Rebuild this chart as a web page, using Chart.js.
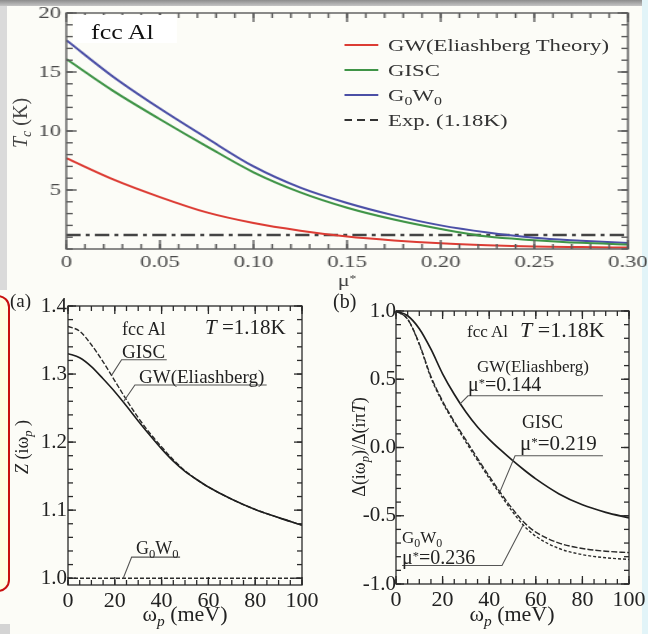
<!DOCTYPE html>
<html>
<head>
<meta charset="utf-8">
<title>fcc Al: Tc and gap functions</title>
<script src="https://cdn.jsdelivr.net/npm/chart.js@4.4.1/dist/chart.umd.min.js"></script>
<style>
  body { margin: 0; background: #fcfcf7; }
  #page { position: relative; width: 648px; height: 634px; overflow: hidden; background: #fcfcf7;
          font-family: "Liberation Serif", "Times New Roman", serif; color: #222; }
  #top { position: absolute; left: 0; top: 0; width: 498px; height: 290px; transform: scaleX(1.3); transform-origin: 0 0; }
  canvas { position: absolute; }
  .t { position: absolute; white-space: nowrap; line-height: 1; }
  .t sub { font-size: 70%; vertical-align: -0.3em; line-height: 0; }
  .t sup { font-size: 62%; vertical-align: 0.32em; line-height: 0; }
  .deco { position: absolute; }
</style>
</head>
<body>
<div id="page">
  <div class="deco" style="left:0;top:0;width:648px;height:6px;background:linear-gradient(#8c8c8c,#c4c4c4);"></div>
  <div class="deco" style="left:0;top:6px;width:7px;height:284px;background:#dadada;"></div>
  <div class="deco" style="left:642px;top:0;width:6px;height:634px;background:#e2f4f8;"></div>
  <div class="deco" style="left:0;top:624px;width:10px;height:10px;background:#d4d4d4;"></div>
  <div class="deco" style="left:-14px;top:295px;width:20px;height:293px;border:2px solid #c81010;border-radius:12px;background:#fffee2;"></div>

  <div id="top">
    <canvas id="tcChart" width="498" height="290" style="left:0;top:0"></canvas>
  </div>
  <canvas id="zChart" width="330" height="344" style="left:0;top:290px"></canvas>
  <canvas id="gapChart" width="318" height="344" style="left:330px;top:290px"></canvas>
</div>

<script>
// ---- top panel: Tc versus mu*
const muStar  = [0, 0.025, 0.05, 0.075, 0.1, 0.125, 0.15, 0.175, 0.2, 0.225, 0.25, 0.275, 0.3];
const tcGW    = [7.7, 5.9, 4.4, 3.1, 2.2, 1.55, 1.05, 0.72, 0.48, 0.32, 0.21, 0.16, 0.12];
const tcGISC  = [16.1, 13.4, 11.0, 8.7, 6.5, 4.8, 3.5, 2.5, 1.7, 1.05, 0.75, 0.52, 0.38];
const tcG0W0  = [17.7, 14.6, 11.9, 9.4, 7.0, 5.2, 3.9, 2.85, 2.0, 1.4, 0.95, 0.7, 0.5];
const tcExp   = 1.18;
const muTicks = [0, 0.05, 0.10, 0.15, 0.20, 0.25, 0.30];
const tcTicks = [5, 10, 15, 20];

// ---- panel (a) and (b): functions of omega_p
const omegaP  = [0, 5, 10, 15, 20, 25, 30, 35, 40, 45, 50, 55, 60, 70, 80, 90, 100];
const zGW     = [1.330, 1.324, 1.311, 1.293, 1.274, 1.253, 1.231, 1.210, 1.190, 1.172, 1.157, 1.145, 1.134, 1.116, 1.101, 1.089, 1.078];
const zGISC   = [1.370, 1.363, 1.343, 1.318, 1.290, 1.262, 1.236, 1.213, 1.193, 1.174, 1.158, 1.145, 1.134, 1.116, 1.101, 1.089, 1.078];
const zG0W0   = [1, 1, 1, 1, 1, 1, 1, 1, 1, 1, 1, 1, 1, 1, 1, 1, 1];
const gapGW   = [1.0, 0.965, 0.87, 0.72, 0.54, 0.39, 0.26, 0.15, 0.06, -0.02, -0.095, -0.165, -0.23, -0.34, -0.42, -0.475, -0.515];
const gapGISC = [1.0, 0.94, 0.76, 0.52, 0.34, 0.19, 0.055, -0.08, -0.21, -0.335, -0.45, -0.55, -0.62, -0.70, -0.74, -0.76, -0.77];
const gapG0W0 = [1.0, 0.94, 0.755, 0.51, 0.33, 0.18, 0.04, -0.095, -0.225, -0.35, -0.47, -0.575, -0.65, -0.74, -0.785, -0.808, -0.82];
const omegaTicks = [0, 20, 40, 60, 80, 100];
const zTicks     = [1.0, 1.1, 1.2, 1.3, 1.4];
const gapTicks   = [-1.0, -0.5, 0.0, 0.5, 1.0];

const SERIF = '"Liberation Serif", "Times New Roman", serif';

function pts(xs, ys) {
  return xs.map((v, i) => ({x: v, y: ys[i]}));
}

// box around the plot with inward ticks on all four sides
const framePlugin = {
  id: 'frame',
  afterDraw(chart, args, o) {
    const {ctx, chartArea: a, scales: {x, y}} = chart;
    ctx.save();
    ctx.strokeStyle = o.color;
    ctx.lineWidth = o.width;
    const seg = (x1, y1, x2, y2) => { ctx.beginPath(); ctx.moveTo(x1, y1); ctx.lineTo(x2, y2); ctx.stroke(); };
    const each = (scale, step, fn) => {
      for (let k = Math.ceil(scale.min / step - 1e-6); k * step <= scale.max + 1e-9; k++) fn(k * step);
    };
    each(x, o.xMinor, v => { const p = x.getPixelForValue(v); seg(p, a.bottom, p, a.bottom - o.xLen[1]); seg(p, a.top, p, a.top + o.xLen[1]); });
    each(y, o.yMinor, v => { const p = y.getPixelForValue(v); seg(a.left, p, a.left + o.yLen[1], p); seg(a.right, p, a.right - o.yLen[1], p); });
    x.ticks.forEach(t => { const p = x.getPixelForValue(t.value); seg(p, a.bottom, p, a.bottom - o.xLen[0]); seg(p, a.top, p, a.top + o.xLen[0]); });
    y.ticks.forEach(t => { const p = y.getPixelForValue(t.value); seg(a.left, p, a.left + o.yLen[0], p); seg(a.right, p, a.right - o.yLen[0], p); });
    ctx.strokeRect(a.left, a.top, a.right - a.left, a.bottom - a.top);
    ctx.restore();
  }
};

// label leader lines, given in data units
const calloutPlugin = {
  id: 'callouts',
  afterDatasetsDraw(chart, args, o) {
    if (!o.items) return;
    const {ctx, scales: {x, y}} = chart;
    ctx.save();
    ctx.strokeStyle = o.color;
    ctx.lineWidth = o.width;
    o.items.forEach(line => {
      ctx.beginPath();
      line.forEach((p, i) => {
        const px = x.getPixelForValue(p[0]), py = y.getPixelForValue(p[1]);
        if (i) ctx.lineTo(px, py); else ctx.moveTo(px, py);
      });
      ctx.stroke();
    });
    ctx.restore();
  }
};

function axis(min, max, ticks, fmt, size, pad, color, fitSize, horizontal) {
  return {
    type: 'linear', min: min, max: max,
    grid: {display: false, drawTicks: false},
    border: {display: false},
    afterBuildTicks: s => { s.ticks = ticks.map(v => ({value: v})); },
    afterFit: s => {
      if (horizontal) { s.height = fitSize; s.paddingLeft = 0; s.paddingRight = 0; }
      else { s.width = fitSize; s.paddingTop = 0; s.paddingBottom = 0; }
    },
    ticks: {callback: fmt, autoSkip: false, maxRotation: 0, padding: pad, color: color,
            font: {family: SERIF, size: size}}
  };
}

function line(data, color, width, dash) {
  return {data: data, borderColor: color, borderWidth: width, borderDash: dash || [],
          pointRadius: 0, fill: false, cubicInterpolationMode: 'monotone'};
}

const baseOpts = {
  responsive: false, animation: false, events: [],
  plugins: {legend: {display: false}, tooltip: {enabled: false}}
};

// top chart
new Chart(document.getElementById('tcChart'), {
  type: 'line',
  data: {datasets: [
    line(pts(muStar, tcGW), '#dc3c34', 2),
    line(pts(muStar, tcGISC), '#3f9447', 2),
    line(pts(muStar, tcG0W0), '#4b4fa6', 2),
    line([{x: muStar[0], y: tcExp}, {x: muStar[muStar.length - 1], y: tcExp}], '#444', 2.5, [11, 4, 3, 4])
  ]},
  options: Object.assign({}, baseOpts, {
    layout: {padding: {top: 13, right: 15, bottom: 0, left: 0}},
    scales: {
      x: axis(0, 0.3, muTicks, v => v === 0 ? '0' : v.toFixed(2), 17.5, 3, '#4a4a4a', 41, true),
      y: axis(0, 20, tcTicks, v => String(v), 17.5, 4, '#4a4a4a', 51, false)
    },
    plugins: Object.assign({}, baseOpts.plugins, {
      frame: {color: '#5a5a5a', width: 1.4, xMinor: 0.01, yMinor: 1, xLen: [9, 5], yLen: [8, 5]}
    })
  }),
  plugins: [framePlugin]
});

// (a) Z(i omega_p)
new Chart(document.getElementById('zChart'), {
  type: 'line',
  data: {datasets: [
    line(pts(omegaP, zGW), '#1e1e1e', 1.6),
    line(pts(omegaP, zGISC), '#2a2a2a', 1.4, [5, 2]),
    line(pts(omegaP, zG0W0), '#2a2a2a', 1.4, [4, 2])
  ]},
  options: Object.assign({}, baseOpts, {
    layout: {padding: {top: 16, right: 28, bottom: 0, left: 0}},
    scales: {
      x: axis(0, 100, omegaTicks, v => String(v), 22, 3, '#222', 49, true),
      y: axis(0.99, 1.4, zTicks, v => v.toFixed(1), 21, 1, '#222', 68, false)
    },
    plugins: Object.assign({}, baseOpts.plugins, {
      frame: {color: '#2a2a2a', width: 1.3, xMinor: 5, yMinor: 0.02, xLen: [8, 5], yLen: [8, 5]},
      callouts: {color: '#555', width: 1.1, items: [
        [[18.6, 1.298], [22.9, 1.321], [42.2, 1.321]],
        [[23.6, 1.259], [28.6, 1.284], [84.9, 1.284]],
        [[23.6, 1.0], [27.2, 1.031], [47.9, 1.031]]
      ]}
    })
  }),
  plugins: [framePlugin, calloutPlugin]
});

// (b) gap function
new Chart(document.getElementById('gapChart'), {
  type: 'line',
  data: {datasets: [
    line(pts(omegaP, gapGW), '#1e1e1e', 1.7),
    line(pts(omegaP, gapGISC), '#2a2a2a', 1.4, [6, 2]),
    line(pts(omegaP, gapG0W0), '#2a2a2a', 1.4, [3, 2])
  ]},
  options: Object.assign({}, baseOpts, {
    layout: {padding: {top: 21, right: 19, bottom: 0, left: 0}},
    scales: {
      x: axis(0, 100, omegaTicks, v => String(v), 22, 3, '#222', 50, true),
      y: axis(-1, 1, gapTicks, v => v.toFixed(1), 21, 0, '#222', 66, false)
    },
    plugins: Object.assign({}, baseOpts.plugins, {
      frame: {color: '#2a2a2a', width: 1.3, xMinor: 5, yMinor: 0.1, xLen: [8, 5], yLen: [8, 5]},
      callouts: {color: '#555', width: 1.1, items: [
        [[27.5, 0.32], [30.9, 0.379], [88.8, 0.379]],
        [[44.6, -0.325], [51.1, -0.06], [88.8, -0.06]],
        [[54.5, -0.57], [45.5, -0.864], [2.6, -0.864]]
      ]}
    })
  }),
  plugins: [framePlugin, calloutPlugin]
});

// ---- text overlays
function addText(parent, html, x, y, size, mode, extra) {
  const el = document.createElement('div');
  el.className = 't';
  el.innerHTML = html;
  el.style.fontSize = size + 'px';
  el.style.left = x + 'px';
  if (mode === 'lb') {
    el.style.top = (y - 0.84 * size) + 'px';
  } else {
    el.style.top = y + 'px';
    el.style.transform = 'translate(-50%,-50%)' + (mode === 'rot' ? ' rotate(-90deg)' : '');
  }
  if (extra) Object.assign(el.style, extra);
  parent.appendChild(el);
  return el;
}

const page = document.getElementById('page');
const topBox = document.getElementById('top');

// top panel label box and legend (inside the stretched box, unstretched units)
const box = document.createElement('div');
Object.assign(box.style, {position: 'absolute', left: '56px', top: '15px', width: '80px', height: '28px', background: '#fff'});
topBox.appendChild(box);
addText(box, 'fcc Al', 14, 24, 20, 'lb', {color: '#111'});

const legendItems = [
  {html: 'GW(Eliashberg Theory)', color: '#dc3c34', y: 45},
  {html: 'GISC', color: '#3f9447', y: 70},
  {html: 'G<sub>0</sub>W<sub>0</sub>', color: '#4b4fa6', y: 95},
  {html: 'Exp. (1.18K)', color: '#333', y: 120, dash: true}
];
legendItems.forEach(it => {
  const ln = document.createElement('div');
  Object.assign(ln.style, {position: 'absolute', left: '265px', top: (it.y - 1) + 'px', width: '26px', height: '2px',
    background: it.dash ? 'repeating-linear-gradient(to right,#333 0 6px,transparent 6px 10px)' : it.color});
  topBox.appendChild(ln);
  addText(topBox, it.html, 298.5, it.y + 7, 17.5, 'lb', {color: '#333'});
});
addText(topBox, 'μ<sup>*</sup>', 267, 280, 17, 'c', {color: '#444'});
addText(page, '<i>T</i><sub><i>c</i></sub> (K)', 20, 123, 20, 'rot', {color: '#444'});

// panel (a)
addText(page, '(a)', 10, 307, 19, 'lb');
addText(page, 'fcc Al', 122, 335, 18, 'lb');
addText(page, '<i>T</i> =1.18K', 205, 335, 21, 'lb');
addText(page, 'GISC', 122, 358, 19, 'lb');
addText(page, 'GW(Eliashberg)', 139, 383, 19, 'lb');
addText(page, 'G<sub>0</sub>W<sub>0</sub>', 136, 554, 18, 'lb');
addText(page, '<i>Z</i> (iω<sub><i>p</i></sub> )', 22, 447, 18, 'rot');
addText(page, 'ω<sub><i>p</i></sub> (meV)', 185, 614, 22, 'c');

// panel (b)
addText(page, '(b)', 333, 308, 20, 'lb');
addText(page, 'fcc Al', 467, 337, 17, 'lb');
addText(page, '<i>T</i> =1.18K', 520, 337, 22, 'lb');
addText(page, 'GW(Eliashberg)', 477, 372, 17, 'lb');
addText(page, 'μ<sup>*</sup>=0.144', 468, 391, 20, 'lb');
addText(page, 'GISC', 522, 428, 18, 'lb');
addText(page, 'μ<sup>*</sup>=0.219', 520, 451, 21, 'lb');
addText(page, 'G<sub>0</sub>W<sub>0</sub>', 402, 543, 17, 'lb');
addText(page, 'μ<sup>*</sup>=0.236', 402, 564, 20, 'lb');
addText(page, 'Δ(iω<sub><i>p</i></sub>)/Δ(iπ<i>T</i>)', 359, 447, 18, 'rot');
addText(page, 'ω<sub><i>p</i></sub> (meV)', 512, 614, 22, 'c');
</script>
</body>
</html>
